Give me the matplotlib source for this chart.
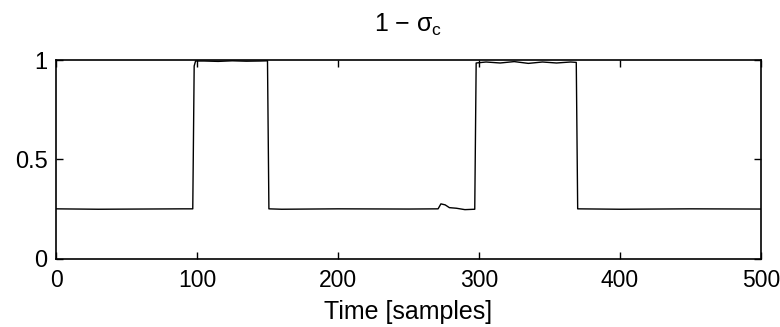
import matplotlib
matplotlib.use('Agg')
import matplotlib.pyplot as plt

# key points of the 1 - sigma_c trace (time in samples, value)
time = [0, 30, 60, 90, 97, 98, 99, 105, 115, 125, 135, 145, 150, 151, 160, 200,
        250, 271, 273, 276, 279, 284, 290, 297, 298, 305, 315, 325, 335, 345,
        355, 365, 369, 370, 400, 450, 500]
value = [0.252, 0.25, 0.251, 0.252, 0.252, 0.97, 0.995, 0.995, 0.993, 0.996,
         0.994, 0.995, 0.996, 0.252, 0.25, 0.252, 0.251, 0.252, 0.277, 0.272,
         0.258, 0.255, 0.248, 0.25, 0.985, 0.99, 0.985, 0.992, 0.983, 0.99,
         0.985, 0.99, 0.988, 0.252, 0.25, 0.252, 0.251]
xticks = [0, 100, 200, 300, 400, 500]
yticks = [0, 0.5, 1]
yticklabels = ['0', '0.5', '1']

plt.rcParams['font.family'] = ['Liberation Sans', 'DejaVu Sans']
plt.rcParams['mathtext.fontset'] = 'custom'
plt.rcParams['mathtext.rm'] = 'Liberation Sans'
plt.rcParams['mathtext.it'] = 'Liberation Sans'

fig = plt.figure(figsize=(7.8, 3.27), dpi=100)
ax = fig.add_axes([0.0718, 0.208, 0.9038, 0.6085])
ax.plot(time, value, color='black', linewidth=1.0)

ax.set_xlim(0, 500)
ax.set_ylim(0, 1)
ax.set_xticks(xticks)
ax.set_yticks(yticks)
ax.set_yticklabels(yticklabels)
ax.tick_params(direction='in', length=5, width=1, top=True, right=True)
ax.tick_params(axis='x', pad=7, labelsize=16.5)
ax.tick_params(axis='y', pad=6, labelsize=17)
for s in ax.spines.values():
    s.set_linewidth(1.2)

ax.set_xlabel('Time [samples]', fontsize=18, labelpad=6)
ax.set_title(r'1 $-$ $\sigma_{\mathrm{c}}$', fontsize=18, pad=20)

fig.savefig('out.png', dpi=100)
